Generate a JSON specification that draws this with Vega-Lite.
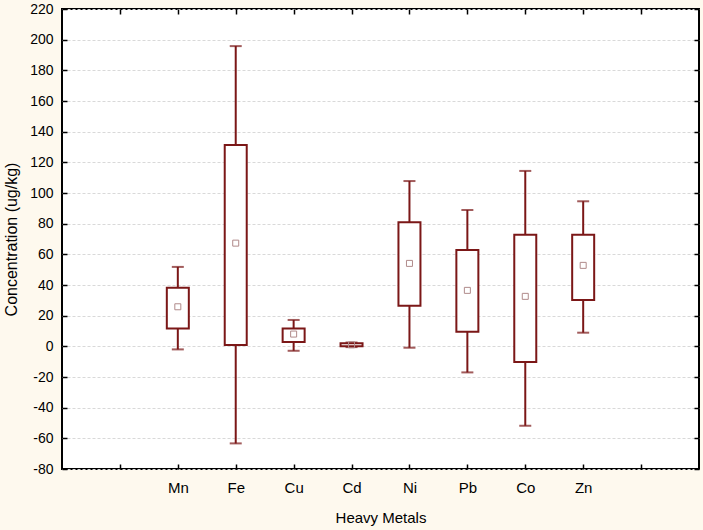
{
  "$schema": "https://vega.github.io/schema/vega-lite/v6.json",
  "width": 637,
  "height": 460,
  "autosize": {"type": "none"},
  "padding": {"left": 62, "top": 9, "right": 4, "bottom": 61},
  "background": "#FEF9EE",
  "view": {"fill": "white", "stroke": "black", "strokeWidth": 2},
  "config": {
    "font": "Liberation Sans",
    "axis": {
      "labelFont": "Liberation Sans",
      "titleFont": "Liberation Sans",
      "labelFontSize": 14,
      "titleFontSize": 15,
      "titleFontWeight": "normal",
      "labelColor": "black",
      "titleColor": "black",
      "domain": false,
      "tickColor": "black",
      "tickWidth": 1.5,
      "tickSize": -5
    }
  },
  "data": {
    "values": [
      {"metal": "Mn", "lo": -2, "q1": 11.7, "mean": 25.8, "q3": 38.2, "hi": 51.8},
      {"metal": "Fe", "lo": -63.3, "q1": 0.8, "mean": 67.3, "q3": 131.3, "hi": 195.8},
      {"metal": "Cu", "lo": -2.9, "q1": 2.8, "mean": 8, "q3": 11.7, "hi": 17.2},
      {"metal": "Cd", "lo": -0.5, "q1": 0, "mean": 1, "q3": 2, "hi": 2.5},
      {"metal": "Ni", "lo": -0.9, "q1": 26.5, "mean": 54.1, "q3": 80.9, "hi": 107.8},
      {"metal": "Pb", "lo": -17, "q1": 9.5, "mean": 36.5, "q3": 62.8, "hi": 88.9},
      {"metal": "Co", "lo": -51.8, "q1": -10.2, "mean": 32.6, "q3": 72.8, "hi": 114.4},
      {"metal": "Zn", "lo": 8.9, "q1": 30.2, "mean": 52.8, "q3": 72.8, "hi": 94.6}
    ]
  },
  "resolve": {"axis": {"x": "independent", "y": "independent"}},
  "layer": [
    {
      "mark": {"type": "rule", "color": "#7b1717", "strokeWidth": 2},
      "encoding": {
        "x": {
          "field": "metal", "type": "nominal",
          "scale": {"type": "point", "domain": [" ", "Mn", "Fe", "Cu", "Cd", "Ni", "Pb", "Co", "Zn", "  "], "padding": 1},
          "axis": {"title": "Heavy Metals", "labelAngle": 0, "labelFontSize": 15, "labelPadding": 16, "titlePadding": 15, "grid": false}
        },
        "y": {
          "field": "lo", "type": "quantitative",
          "scale": {"domain": [-80, 220], "nice": false, "zero": false},
          "axis": {
            "title": "Concentration (ug/kg)",
            "titleFontSize": 16,
            "values": [-80, -60, -40, -20, 0, 20, 40, 60, 80, 100, 120, 140, 160, 180, 200, 220],
            "labelExpr": "datum.value + ''",
            "grid": true, "gridColor": "#d9d9d9", "gridDash": [3, 2], "gridWidth": 1,
            "labelPadding": 14, "titlePadding": 10
          }
        },
        "y2": {"field": "hi"}
      }
    },
    {
      "mark": {"type": "tick", "color": "#7b1717", "thickness": 2, "size": 12, "orient": "horizontal"},
      "encoding": {
        "x": {"field": "metal", "type": "nominal", "axis": null},
        "y": {"field": "hi", "type": "quantitative", "axis": null}
      }
    },
    {
      "mark": {"type": "tick", "color": "#7b1717", "thickness": 2, "size": 12, "orient": "horizontal"},
      "encoding": {
        "x": {"field": "metal", "type": "nominal", "axis": null},
        "y": {"field": "lo", "type": "quantitative", "axis": null}
      }
    },
    {
      "mark": {"type": "bar", "fill": "white", "stroke": "#7b1717", "strokeWidth": 2, "size": 22},
      "encoding": {
        "x": {"field": "metal", "type": "nominal", "axis": null},
        "y": {"field": "q1", "type": "quantitative", "axis": null},
        "y2": {"field": "q3"}
      }
    },
    {
      "mark": {"type": "point", "shape": "square", "filled": false, "stroke": "#b08a8a", "strokeWidth": 1, "size": 36, "opacity": 1},
      "encoding": {
        "x": {"field": "metal", "type": "nominal", "axis": {"orient": "top", "labels": false, "title": null, "grid": false}},
        "y": {"field": "mean", "type": "quantitative", "axis": {"orient": "right", "labels": false, "title": null, "grid": false, "values": [-80, -60, -40, -20, 0, 20, 40, 60, 80, 100, 120, 140, 160, 180, 200, 220]}}
      }
    }
  ]
}
